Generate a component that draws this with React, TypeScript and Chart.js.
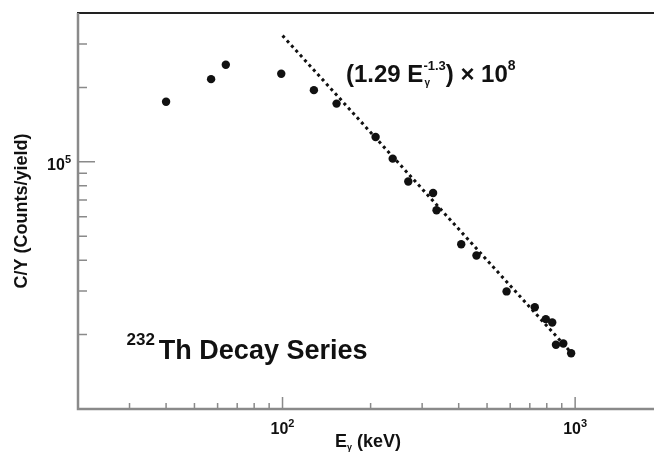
import React, { useEffect, useRef } from "react";
import { Chart, registerables } from "chart.js";

Chart.register(...registerables);

// Measured points (E_gamma in keV, C/Y counts per yield)
const energies = [40, 57, 64, 99, 128, 153, 208, 238, 269, 327, 336, 408, 460, 583, 728, 794, 835, 860, 911, 969];
const counts = [175000, 216000, 247000, 227000, 195000, 172000, 126000, 103000, 83300, 74800, 63700, 46400, 41800, 29900, 25800, 23100, 22400, 18200, 18400, 16800];

// Fit line end points: (1.29 E^-1.3) x 10^8
const fitEnergies = [100, 1000];
const fitCounts = [324000, 16240];

// Axis ticks
const xMinorTicks = [30, 40, 50, 60, 70, 80, 90, 200, 300, 400, 500, 600, 700, 800, 900];
const xMajorTicks = [100, 1000];
const xMajorExponents = ["2", "3"];
const yMinorTicks = [20000, 30000, 40000, 50000, 60000, 70000, 80000, 90000, 200000, 300000];
const yMajorTicks = [100000];
const yMajorExponents = ["5"];

const FONT = '"Liberation Sans", Arial, Helvetica, sans-serif';
const AXIS_COLOR = "#8a8a8a";

type Part = { text: string; size: number; dy: number; gap?: number };

function measureParts(ctx: CanvasRenderingContext2D, parts: Part[]) {
  let w = 0;
  for (const p of parts) {
    ctx.font = `bold ${p.size}px ${FONT}`;
    w += ctx.measureText(p.text).width + (p.gap || 0);
  }
  return w;
}

function drawParts(ctx: CanvasRenderingContext2D, x: number, y: number, parts: Part[]) {
  let cx = x;
  ctx.textAlign = "left";
  ctx.textBaseline = "alphabetic";
  for (const p of parts) {
    ctx.font = `bold ${p.size}px ${FONT}`;
    ctx.fillText(p.text, cx, y + p.dy);
    cx += ctx.measureText(p.text).width + (p.gap || 0);
  }
  return cx;
}

const axesPlugin = {
  id: "rootAxes",
  afterDraw(chart: any) {
    const ctx: CanvasRenderingContext2D = chart.ctx;
    const { left, right, top, bottom } = chart.chartArea;
    const xs = chart.scales.x;
    const ys = chart.scales.y;
    ctx.save();

    // top frame line
    ctx.strokeStyle = "#222";
    ctx.lineWidth = 2;
    ctx.beginPath();
    ctx.moveTo(left - 1, top);
    ctx.lineTo(right, top);
    ctx.stroke();

    // left and bottom axes
    ctx.strokeStyle = AXIS_COLOR;
    ctx.lineWidth = 2.5;
    ctx.beginPath();
    ctx.moveTo(left, top);
    ctx.lineTo(left, bottom);
    ctx.lineTo(right, bottom);
    ctx.stroke();

    // ticks
    ctx.lineWidth = 1.5;
    ctx.beginPath();
    for (const v of xMinorTicks) {
      const px = xs.getPixelForValue(v);
      ctx.moveTo(px, bottom);
      ctx.lineTo(px, bottom - 6);
    }
    for (const v of xMajorTicks) {
      const px = xs.getPixelForValue(v);
      ctx.moveTo(px, bottom);
      ctx.lineTo(px, bottom - 12);
    }
    for (const v of yMinorTicks) {
      const py = ys.getPixelForValue(v);
      ctx.moveTo(left, py);
      ctx.lineTo(left + 9, py);
    }
    for (const v of yMajorTicks) {
      const py = ys.getPixelForValue(v);
      ctx.moveTo(left, py);
      ctx.lineTo(left + 17, py);
    }
    ctx.stroke();

    ctx.fillStyle = "#111";
    // x tick labels
    xMajorTicks.forEach((v, i) => {
      const px = xs.getPixelForValue(v);
      const parts: Part[] = [
        { text: "10", size: 16, dy: 0 },
        { text: xMajorExponents[i], size: 11, dy: -7 },
      ];
      const w = measureParts(ctx, parts);
      drawParts(ctx, px - w / 2, bottom + 25, parts);
    });
    // y tick labels
    yMajorTicks.forEach((v, i) => {
      const py = ys.getPixelForValue(v);
      const parts: Part[] = [
        { text: "10", size: 16, dy: 0 },
        { text: yMajorExponents[i], size: 11, dy: -7 },
      ];
      const w = measureParts(ctx, parts);
      drawParts(ctx, left - 7 - w, py + 8.5, parts);
    });

    // x title
    {
      const parts: Part[] = [
        { text: "E", size: 18, dy: 0 },
        { text: "\u03b3", size: 9, dy: 3 },
        { text: " (keV)", size: 18, dy: 0 },
      ];
      const w = measureParts(ctx, parts);
      drawParts(ctx, (left + right) / 2 + 2 - w / 2, 447, parts);
    }
    // y title
    {
      ctx.save();
      ctx.translate(27, (top + bottom) / 2);
      ctx.rotate(-Math.PI / 2);
      ctx.font = `bold 18px ${FONT}`;
      ctx.textAlign = "center";
      ctx.textBaseline = "alphabetic";
      ctx.fillText("C/Y (Counts/yield)", 0, 0);
      ctx.restore();
    }

    // formula annotation
    const eEnd = drawParts(ctx, 346, 81.5, [{ text: "(1.29 E", size: 24, dy: 0 }]);
    ctx.font = `bold 10px ${FONT}`;
    ctx.textAlign = "left";
    ctx.fillText("\u03b3", eEnd + 1, 86);
    drawParts(ctx, eEnd, 81.5, [
      { text: "-1.3", size: 13, dy: -11.5, gap: 0 },
      { text: ") \u00d7 10", size: 24, dy: 0 },
      { text: "8", size: 14, dy: -11.5 },
    ]);

    // series label
    drawParts(ctx, 126.5, 358.5, [
      { text: "232", size: 17, dy: -14, gap: 4 },
      { text: "Th Decay Series", size: 27, dy: 0 },
    ]);

    ctx.restore();
  },
};

export default function App() {
  const ref = useRef<HTMLCanvasElement | null>(null);
  useEffect(() => {
    if (!ref.current) return;
    const chart = new Chart(ref.current, {
      type: "scatter",
      data: {
        datasets: [
          {
            label: "fit",
            data: fitEnergies.map((x, i) => ({ x, y: fitCounts[i] })),
            showLine: true,
            borderColor: "#111",
            borderWidth: 3,
            borderDash: [3, 3.5],
            pointRadius: 0,
            order: 2,
          },
          {
            label: "data",
            data: energies.map((x, i) => ({ x, y: counts[i] })),
            backgroundColor: "#111",
            borderColor: "#111",
            pointRadius: 4.2,
            pointBorderWidth: 0,
            order: 1,
          },
        ],
      },
      options: {
        responsive: false,
        animation: false,
        layout: { autoPadding: false, padding: { left: 78, top: 13, right: 0, bottom: 46 } },
        scales: {
          x: { type: "logarithmic", min: 20, max: 1860, display: false },
          y: { type: "logarithmic", min: 10000, max: 400000, display: false },
        },
        plugins: { legend: { display: false }, tooltip: { enabled: false } },
      },
      plugins: [axesPlugin],
    });
    return () => chart.destroy();
  }, []);
  return (
    <div style={{ position: "absolute", left: 0, top: 0, width: 654, height: 455, background: "#fff" }}>
      <canvas ref={ref} width={654} height={455} style={{ display: "block" }} />
    </div>
  );
}
